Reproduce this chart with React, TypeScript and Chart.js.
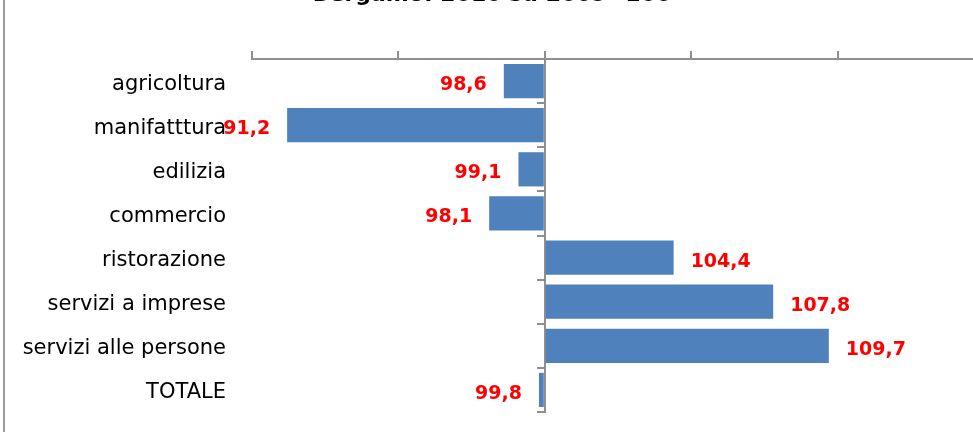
import React, { useEffect, useRef } from "react";
import { Chart, registerables } from "chart.js";

Chart.register(...registerables);

const categories = [
  "agricoltura",
  "manifatttura",
  "edilizia",
  "commercio",
  "ristorazione",
  "servizi a imprese",
  "servizi alle persone",
  "TOTALE",
];
const values = [98.6, 91.2, 99.1, 98.1, 104.4, 107.8, 109.7, 99.8];
const baseValue = 100;
const axisMin = 90;
const axisMax = 115;
const axisStep = 5;
const titleText = "Bergamo: 2010 su 2009=100";

const CANVAS_W = 984;
const CANVAS_H = 462;
const OFF = 30;

const fmt = (v: number) => v.toFixed(1).replace(".", ",");

const valueLabels = {
  id: "valueLabels",
  afterDatasetsDraw(chart: any) {
    const ctx = chart.ctx;
    const meta = chart.getDatasetMeta(0);
    ctx.save();
    ctx.font = 'bold 19px "DejaVu Sans"';
    ctx.fillStyle = "#FF0000";
    ctx.textBaseline = "middle";
    meta.data.forEach((el: any, i: number) => {
      const v = values[i];
      const { x, y } = el.getProps(["x", "y"], true);
      if (v >= baseValue) {
        ctx.textAlign = "left";
        ctx.fillText(fmt(v), x + 17, y + 4);
      } else {
        ctx.textAlign = "right";
        ctx.fillText(fmt(v), x - 17, y + 4);
      }
    });
    ctx.restore();
  },
};

const frameAndTitle = {
  id: "frameAndTitle",
  beforeDraw(chart: any) {
    const ctx = chart.ctx;
    ctx.save();
    ctx.fillStyle = "#ffffff";
    ctx.fillRect(0, 0, chart.width, chart.height);
    ctx.strokeStyle = "#9a9a9a";
    ctx.lineWidth = 2;
    ctx.beginPath();
    ctx.moveTo(4, 0);
    ctx.lineTo(4, chart.height);
    ctx.stroke();
    ctx.font = 'bold 22px "DejaVu Sans"';
    ctx.fillStyle = "#000000";
    ctx.textAlign = "center";
    ctx.textBaseline = "alphabetic";
    ctx.fillText(titleText, chart.width / 2, OFF + 1);
    ctx.restore();
  },
};

export default function App() {
  const ref = useRef<HTMLCanvasElement>(null);

  useEffect(() => {
    if (!ref.current) return;
    Chart.defaults.font.family = "DejaVu Sans";
    const axisColor = "#8f8f8f";
    const chart = new Chart(ref.current, {
      type: "bar",
      data: {
        labels: categories,
        datasets: [
          {
            data: values,
            base: baseValue,
            backgroundColor: "#4F81BD",
            borderWidth: 0,
            barPercentage: 0.775,
            categoryPercentage: 1,
            xAxisID: "x",
            yAxisID: "y",
          } as any,
        ],
      },
      options: {
        indexAxis: "y",
        responsive: false,
        animation: false,
        devicePixelRatio: 1,
        layout: { padding: { top: 81, bottom: 20, left: 0, right: 0 } },
        plugins: {
          legend: { display: false },
          tooltip: { enabled: false },
          title: { display: false },
        },
        scales: {
          x: {
            type: "linear",
            position: "top",
            min: axisMin,
            max: axisMax,
            ticks: { display: false, stepSize: axisStep },
            grid: {
              display: true,
              drawOnChartArea: false,
              drawTicks: true,
              tickLength: 8,
              color: axisColor,
              lineWidth: 2,
            },
            border: { display: true, color: axisColor, width: 2 },
            afterFit(s: any) {
              s.height = 8;
              s.paddingLeft = 0;
              s.paddingRight = 0;
            },
          },
          y: {
            type: "category",
            position: { x: baseValue },
            offset: true,
            ticks: { display: false },
            grid: {
              display: true,
              offset: true,
              drawOnChartArea: false,
              drawTicks: true,
              tickLength: 7,
              color: axisColor,
              lineWidth: 2,
            },
            border: { display: true, color: axisColor, width: 2 },
            afterFit(s: any) {
              s.paddingTop = 0;
              s.paddingBottom = 0;
            },
          },
          yLabels: {
            type: "category",
            axis: "y",
            position: "left",
            offset: true,
            labels: categories,
            grid: { display: false, drawTicks: false },
            border: { display: false },
            ticks: {
              font: { family: "DejaVu Sans", size: 21 },
              color: "#000000",
              padding: 26,
              labelOffset: 3,
              autoSkip: false,
            },
            afterFit(s: any) {
              s.width = 252;
              s.paddingTop = 0;
              s.paddingBottom = 0;
            },
          },
        } as any,
      },
      plugins: [frameAndTitle, valueLabels],
    });
    return () => chart.destroy();
  }, []);

  return (
    <div
      style={{
        position: "fixed",
        left: 0,
        top: 0,
        width: 973,
        height: 432,
        overflow: "hidden",
        background: "#ffffff",
      }}
    >
      <canvas
        ref={ref}
        width={CANVAS_W}
        height={CANVAS_H}
        style={{ position: "absolute", left: 0, top: -OFF, display: "block" }}
      />
    </div>
  );
}
